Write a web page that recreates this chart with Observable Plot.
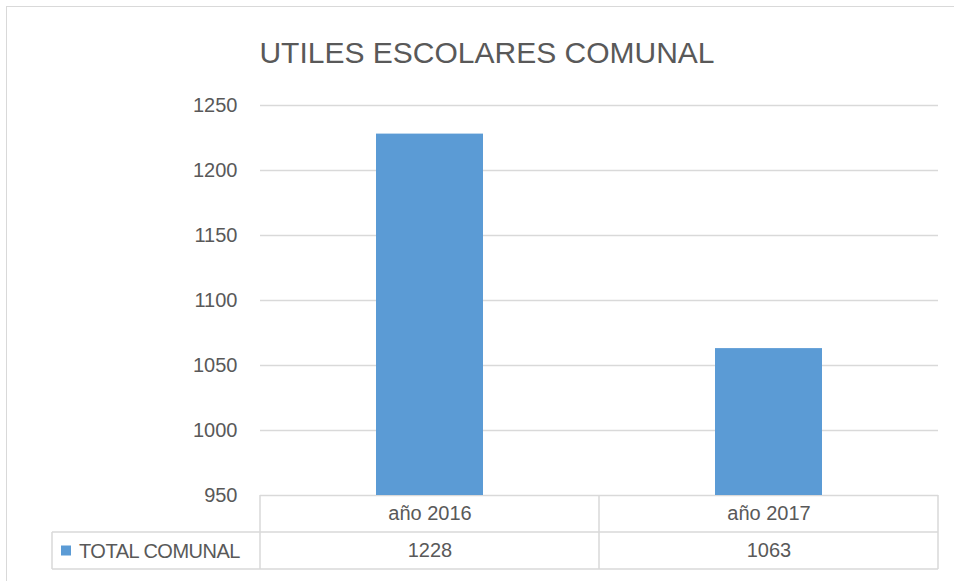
<!DOCTYPE html>
<html>
<head>
<meta charset="utf-8">
<script src="https://cdn.jsdelivr.net/npm/d3@7"></script>
<script src="https://cdn.jsdelivr.net/npm/@observablehq/plot@0.6"></script>
<style>
  html, body { margin: 0; padding: 0; background: #fff; }
  #wrap { position: relative; width: 954px; height: 581px; overflow: hidden; font-family: "Liberation Sans", Arial, sans-serif; }
  #frame { position: absolute; left: 6px; top: 6px; width: 960px; height: 600px; border-left: 1.5px solid #d9d9d9; border-top: 1.5px solid #d9d9d9; box-sizing: border-box; }
  #title { position: absolute; left: 6px; width: 962px; top: 36px; text-align: center; font-size: 30px; color: #595959; letter-spacing: 0px; }
  #chart { position: absolute; left: 0; top: 90px; }
</style>
</head>
<body>
<div id="wrap">
  <div id="frame"></div>
  <div id="title">UTILES ESCOLARES COMUNAL</div>
  <div id="chart"></div>
</div>
<script>
const categories = ["año 2016", "año 2017"];
const values = [1228, 1063];
const seriesName = "TOTAL COMUNAL";
const yTicks = [950, 1000, 1050, 1100, 1150, 1200, 1250];

const data = categories.map((c, i) => ({cat: c, value: values[i]}));
const yMin = yTicks[0], yMax = yTicks[yTicks.length - 1];
const textColor = "#595959";
const gridColor = "#d9d9d9";
const barColor = "#5b9bd5";

const W = 954, H = 490, mTop = 15, mBottom = 85, mLeft = 260, mRight = 16;

const plot = Plot.plot({
  width: W,
  height: H,
  marginTop: mTop,
  marginBottom: mBottom,
  marginLeft: mLeft,
  marginRight: mRight,
  style: {fontFamily: "'Liberation Sans', Arial, sans-serif", color: textColor, background: "transparent"},
  x: {domain: categories, paddingInner: 0.684, paddingOuter: 0.342},
  y: {domain: [yMin, yMax]},
  marks: [
    Plot.gridY({ticks: yTicks, stroke: gridColor, strokeOpacity: 1, strokeWidth: 1.5}),
    Plot.barY(data, {x: "cat", y1: yMin, y2: "value", fill: barColor}),
    Plot.axisY({ticks: yTicks, tickSize: 0, tickPadding: 23, fontSize: 20, fill: textColor, tickFormat: d => String(d), label: null}),
    Plot.axisX({tickSize: 0, tickPadding: 10, fontSize: 20, fill: textColor, label: null}),
    Plot.text(data, {x: "cat", text: d => String(d.value), frameAnchor: "bottom", dy: 61, fontSize: 20, fill: textColor})
  ]
});
document.getElementById("chart").appendChild(plot);

// Data table borders (layout only)
const edges = [mLeft];
for (let i = 1; i < categories.length; i++) edges.push(mLeft + (W - mLeft - mRight) * i / categories.length);
edges.push(W - mRight);

const svg = d3.select(plot);
const yTop = H - mBottom;          // 950 line
const yMid = yTop + 37;
const yBot = yTop + 74;
const legendLeft = 52;
const g = svg.append("g").attr("stroke", gridColor).attr("stroke-width", 1.5).attr("fill", "none");
edges.forEach(x => g.append("line").attr("x1", x).attr("x2", x).attr("y1", yTop).attr("y2", yBot));
g.append("line").attr("x1", legendLeft).attr("x2", legendLeft).attr("y1", yMid).attr("y2", yBot);
g.append("line").attr("x1", legendLeft).attr("x2", W - mRight).attr("y1", yMid).attr("y2", yMid);
g.append("line").attr("x1", legendLeft).attr("x2", W - mRight).attr("y1", yBot).attr("y2", yBot);

// Legend key in the table
const lg = svg.append("g").attr("text-anchor", "start");
lg.append("rect").attr("x", 61).attr("y", (yMid + yBot) / 2 - 5).attr("width", 10).attr("height", 10).attr("fill", barColor);
lg.append("text").attr("x", 79).attr("y", (yMid + yBot) / 2).attr("dy", "0.35em").attr("text-anchor", "start")
  .attr("font-size", 20).attr("fill", textColor).attr("letter-spacing", "-0.5px").text(seriesName);
</script>
</body>
</html>
